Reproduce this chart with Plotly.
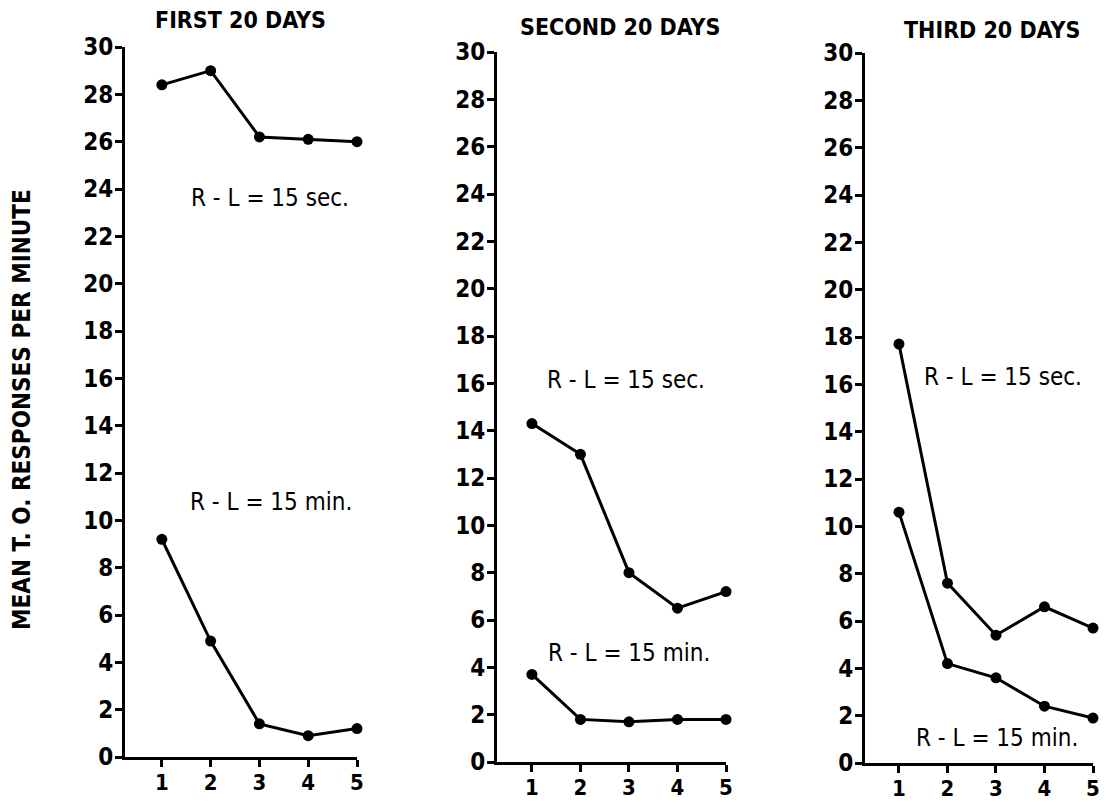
import plotly.graph_objects as go

days = [1, 2, 3, 4, 5]
titles = ["FIRST 20 DAYS", "SECOND 20 DAYS", "THIRD 20 DAYS"]
sec_15 = [
    [28.4, 29.0, 26.2, 26.1, 26.0],
    [14.3, 13.0, 8.0, 6.5, 7.2],
    [17.7, 7.6, 5.4, 6.6, 5.7],
]
min_15 = [
    [9.2, 4.9, 1.4, 0.9, 1.2],
    [3.7, 1.8, 1.7, 1.8, 1.8],
    [10.6, 4.2, 3.6, 2.4, 1.9],
]
y_ticks = list(range(0, 31, 2))
y_title = "MEAN T. O. RESPONSES PER MINUTE"
label_sec = "R - L = 15 sec."
label_min = "R - L = 15 min."

OFF = 8  # page body margin
W, H = 1113 - OFF, 805 - OFF
FONT = "DejaVu Sans Condensed, Liberation Sans Narrow, Arial Narrow, sans-serif"


def px(x):
    return (x - OFF) / W


def py(y):
    return 1 - (y - OFF) / H


# panel geometry in window pixels: (x_left, x_at_5, y_at_0, y_at_30, xmin)
panels = [
    (125, 357, 757, 47, 0.245),
    (497, 726, 762, 52, 0.28),
    (865, 1093, 763, 53, 0.30),
]

fig = go.Figure()
layout = dict(
    width=W, height=H,
    margin=dict(l=0, r=0, t=0, b=0, autoexpand=False),
    paper_bgcolor="white", plot_bgcolor="white",
    showlegend=False,
    font=dict(family=FONT, color="black"),
)

for i, (xl, xr, yb, yt, xmin) in enumerate(panels):
    n = "" if i == 0 else str(i + 1)
    xa = "x" + n
    ya = "y" + n
    for series in (sec_15[i], min_15[i]):
        fig.add_trace(go.Scatter(
            x=days, y=series, xaxis=xa, yaxis=ya,
            mode="lines+markers",
            line=dict(color="black", width=3),
            marker=dict(color="black", size=11),
            cliponaxis=False,
        ))
    layout["xaxis" + n] = dict(
        domain=[px(xl), px(xr)], range=[xmin, 5], anchor=ya,
        tickvals=days, ticktext=[str(d) for d in days],
        ticks="outside", ticklen=7, tickwidth=3, tickcolor="black",
        showline=True, linecolor="black", linewidth=3,
        showgrid=False, zeroline=False, automargin=False,
        tickfont=dict(size=22, family=FONT, weight="bold"),
        ticklabelstandoff=-3,
    )
    layout["yaxis" + n] = dict(
        domain=[py(yb), py(yt)], range=[0, 30], anchor=xa,
        tickvals=y_ticks, ticktext=[str(v) for v in y_ticks],
        ticks="outside", ticklen=7, tickwidth=3, tickcolor="black",
        showline=True, linecolor="black", linewidth=3,
        showgrid=False, zeroline=False, automargin=False,
        tickfont=dict(size=24, family=FONT, weight="bold"),
        ticklabelstandoff=-3,
    )

annotations = []
title_pos = [(240, 20), (620, 27), (992, 30)]
for t, (tx, ty) in zip(titles, title_pos):
    annotations.append(dict(
        x=px(tx), y=py(ty), xref="paper", yref="paper",
        text=t, showarrow=False, xanchor="center", yanchor="middle",
        font=dict(size=23, family=FONT, weight="bold"),
    ))

label_pos = [
    (label_sec, 270, 198), (label_min, 271, 502),
    (label_sec, 626, 380), (label_min, 629, 653),
    (label_sec, 1003, 377), (label_min, 997, 738),
]
for t, lx, ly in label_pos:
    annotations.append(dict(
        x=px(lx), y=py(ly), xref="paper", yref="paper",
        text=t, showarrow=False, xanchor="center", yanchor="middle",
        font=dict(size=24, family=FONT),
    ))

annotations.append(dict(
    x=px(22), y=py(410), xref="paper", yref="paper",
    text=y_title, showarrow=False, textangle=-90,
    xanchor="center", yanchor="middle",
    font=dict(size=24, family=FONT, weight="bold"),
))
layout["annotations"] = annotations

fig.update_layout(**layout)
fig.write_html("out.html")
